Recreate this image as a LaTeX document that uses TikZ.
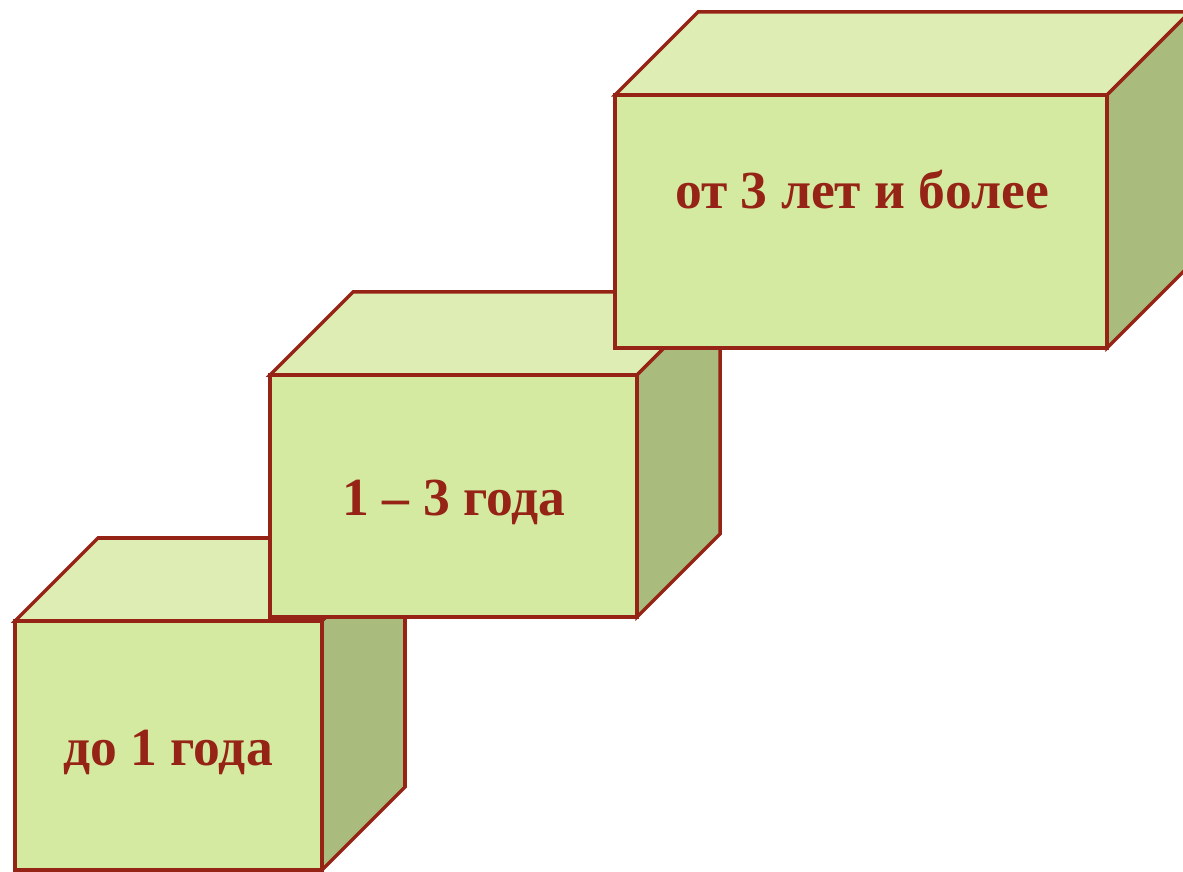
\documentclass[tikz,border=0pt]{standalone}
\usepackage{fontspec}
\setmainfont{Liberation Serif}
\usepackage{xcolor}
\usepackage{tikz}
\definecolor{edge}{HTML}{962416}
\definecolor{ink}{HTML}{962416}
\definecolor{frontface}{HTML}{D4EAA0}
\definecolor{topface}{HTML}{DEEDB4}
\definecolor{sideface}{HTML}{A9BB7D}
\tikzset{
  rim/.style={draw=edge, line width=2pt, line join=miter},
  lab/.style={text=ink, font=\fontsize{30.5}{34}\selectfont\bfseries, anchor=base}
}
\newcommand{\dep}{83}
% front face from (#1,#2) to (#3,#4), depth \dep
\newcommand{\stepcube}[4]{%
  \filldraw[rim, fill=topface] (#1,#4) -- (#1+\dep,#4+\dep) -- (#3+\dep,#4+\dep) -- (#3,#4) -- cycle;
  \filldraw[rim, fill=sideface] (#3,#2) -- (#3,#4) -- (#3+\dep,#4+\dep) -- (#3+\dep,#2+\dep) -- cycle;
  \filldraw[rim, fill=frontface] (#1,#2) rectangle (#3,#4);
}

\begin{document}
\begin{tikzpicture}[x=0.02cm, y=0.02cm]
  \useasboundingbox (0,0) rectangle (1183,872);

  \stepcube{15}{2}{322}{251}
  \stepcube{270}{255}{637}{497}
  \stepcube{615}{524}{1107}{777}

  \node[lab] (young) at (168,106) {до 1 года};
  \node[lab] (middle) at (454,356) {1 – 3 года};
  \node[lab] (old) at (862,663) {от 3 лет и более};
\end{tikzpicture}
\end{document}
